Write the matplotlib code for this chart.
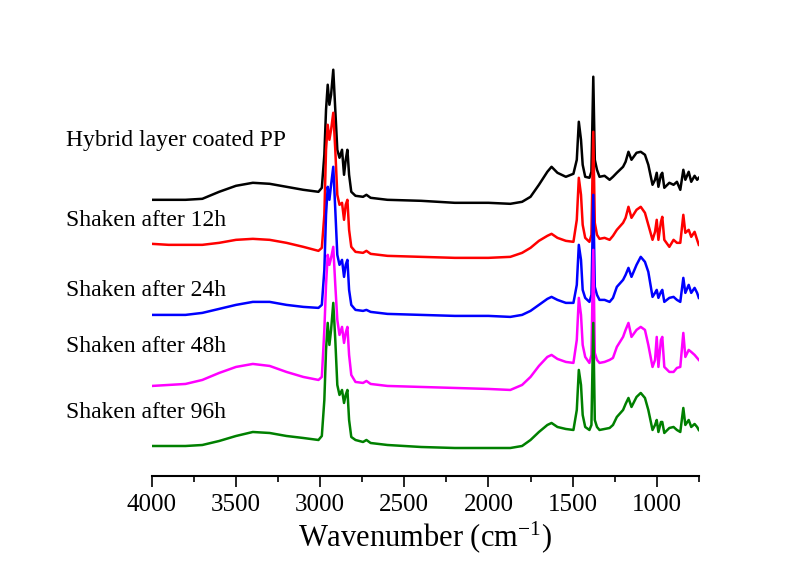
import numpy as np
import matplotlib
matplotlib.use("Agg")
import matplotlib.pyplot as plt

plt.rcParams['font.family'] = ['Liberation Serif', 'DejaVu Serif']
plt.rcParams['mathtext.fontset'] = 'custom'
plt.rcParams['mathtext.rm'] = 'Liberation Serif'
plt.rcParams['mathtext.it'] = 'Liberation Serif:italic'

# wavenumbers (cm-1), shared by all spectra
wavenumber = [
    4000, 3900, 3800, 3700, 3600, 3500, 3400, 3300, 3200, 3100,
    3010, 2990, 2975, 2965, 2955, 2945, 2935, 2922, 2910, 2898,
    2885, 2870, 2858, 2848, 2838, 2828, 2815, 2790, 2745, 2725,
    2700, 2600, 2400, 2200, 2000, 1870, 1800, 1750, 1700, 1650,
    1625, 1590, 1540, 1495, 1475, 1463, 1450, 1440, 1425, 1400,
    1388, 1377, 1368, 1355, 1340, 1310, 1280, 1260, 1237, 1200,
    1185, 1168, 1150, 1120, 1095, 1070, 1050, 1025, 1010, 1000,
    990, 975, 967, 955, 925, 900, 880, 860, 842, 830,
    810, 795, 775, 760, 750,
]

# stacked traces (a.u.), offset already included
hybrid = [
    276, 276, 276, 277, 284, 290, 293, 292, 289, 286,
    284, 288, 321, 366, 391, 371, 381, 406, 366, 326,
    318, 326, 301, 316, 326, 301, 284, 280, 279, 281,
    278, 276, 275, 273, 273, 272, 274, 279, 291, 304,
    309, 303, 299, 302, 316, 354, 336, 311, 299, 298,
    304, 399, 316, 306, 299, 300, 296, 299, 303, 309,
    314, 324, 316, 323, 324, 321, 311, 291, 296, 303,
    289, 301, 303, 288, 293, 291, 294, 286, 306, 296,
    304, 294, 300, 296, 298,
]
shaken_12h = [
    232, 231, 231, 231, 233, 236, 237, 236, 233, 229,
    225, 228, 261, 326, 351, 336, 346, 363, 326, 281,
    271, 273, 256, 271, 276, 246, 229, 224, 223, 225,
    222, 220, 219, 218, 218, 219, 223, 228, 235, 240,
    242, 238, 235, 234, 256, 298, 281, 251, 238, 234,
    241, 344, 253, 241, 237, 238, 236, 240, 246, 253,
    258, 269, 258, 266, 269, 263, 251, 236, 244, 256,
    236, 254, 259, 236, 229, 236, 233, 233, 261, 243,
    246, 239, 244, 236, 231,
]
shaken_24h = [
    161, 161, 161, 163, 167, 171, 174, 174, 171, 169,
    168, 171, 206, 261, 289, 276, 291, 309, 266, 221,
    211, 216, 199, 211, 216, 186, 171, 166, 165, 166,
    164, 162, 161, 160, 160, 159, 161, 165, 171, 177,
    179, 176, 173, 173, 191, 231, 216, 186, 178, 174,
    181, 281, 189, 181, 176, 176, 174, 178, 189, 196,
    201, 208, 199, 211, 219, 214, 204, 179, 183, 186,
    178, 184, 186, 174, 178, 179, 176, 174, 198, 183,
    191, 183, 188, 183, 178,
]
shaken_48h = [
    90, 91, 92, 96, 103, 109, 112, 110, 104, 99,
    96, 99, 146, 191, 221, 211, 218, 229, 191, 156,
    141, 149, 133, 143, 149, 121, 101, 94, 93, 95,
    92, 90, 89, 88, 87, 86, 91, 99, 110, 119,
    121, 117, 114, 113, 136, 178, 161, 131, 119, 113,
    121, 226, 123, 116, 113, 114, 116, 118, 129, 139,
    146, 153, 139, 146, 149, 146, 131, 109, 116, 139,
    109, 136, 139, 109, 104, 104, 108, 109, 143, 119,
    126, 124, 121, 118, 116,
]
shaken_96h = [
    30, 30, 30, 31, 35, 40, 44, 43, 40, 38,
    36, 40, 76, 126, 153, 131, 146, 173, 136, 91,
    81, 86, 73, 81, 86, 56, 39, 36, 34, 36,
    33, 31, 29, 28, 28, 28, 30, 36, 44, 51,
    53, 49, 47, 46, 66, 106, 91, 61, 49, 46,
    51, 153, 56, 49, 46, 47, 48, 51, 59, 66,
    72, 78, 69, 79, 83, 78, 66, 46, 51, 56,
    44, 54, 54, 43, 48, 49, 46, 44, 68, 51,
    56, 49, 52, 49, 46,
]

series = [hybrid, shaken_12h, shaken_24h, shaken_48h, shaken_96h]
colors = ["black", "#ff0000", "#0000ff", "#ff00ff", "#008000"]
labels = ["Hybrid layer coated PP", "Shaken after 12h", "Shaken after 24h",
          "Shaken after 48h", "Shaken after 96h"]
label_y = [0.750, 0.608, 0.484, 0.385, 0.268]

fig = plt.figure(figsize=(7.95, 5.63), dpi=100)
ax = fig.add_axes([0.191, 0.1545, 0.688, 0.775])

for vals, c in zip(series, colors):
    ax.plot(wavenumber, vals, color=c, linewidth=1.8, solid_joinstyle="round")

ax.set_xlim(4000, 750)
ax.set_ylim(0, 436)

# only the bottom axis is drawn
for s in ["top", "left", "right"]:
    ax.spines[s].set_visible(False)
ax.spines["bottom"].set_linewidth(1.5)
ax.set_yticks([])

ax.set_xticks(np.arange(4000, 749, -500))
ax.set_xticks(np.arange(3750, 749, -500), minor=True)
ax.tick_params(axis="x", which="major", direction="out", length=8, width=1.2,
               labelsize=18, pad=5)
ax.tick_params(axis="x", which="minor", direction="out", length=4.5, width=1.2)
ax.set_xlabel("Wavenumber (cm$^{-1}$)", fontsize=22, labelpad=2)

for txt, y in zip(labels, label_y):
    fig.text(0.083, y, txt, fontsize=17, va="center", ha="left")

fig.savefig("out.png", dpi=100)
